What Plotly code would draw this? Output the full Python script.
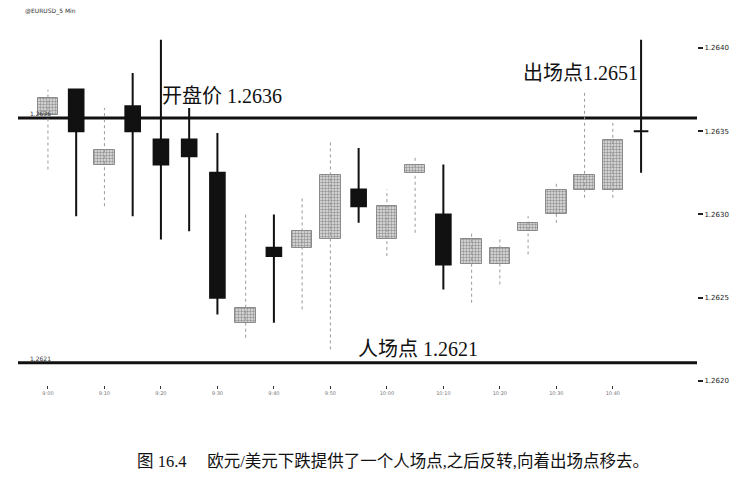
import plotly.graph_objects as go

# ---- data ----
idx = list(range(22))
opens  = [1.26360, 1.26375, 1.26330, 1.26365, 1.26345, 1.26345, 1.26325, 1.26235, 1.26280, 1.26280, 1.26285,
          1.26315, 1.26285, 1.26325, 1.26300, 1.26270, 1.26270, 1.26290, 1.26300, 1.26315, 1.26315, 1.26350]
highs  = [1.26375, 1.26375, 1.26364, 1.26385, 1.26405, 1.26364, 1.26349, 1.26300, 1.26300, 1.26310, 1.26344,
          1.26340, 1.26315, 1.26335, 1.26330, 1.26290, 1.26287, 1.26299, 1.26320, 1.26373, 1.26355, 1.26405]
lows   = [1.26327, 1.26299, 1.26305, 1.26299, 1.26285, 1.26290, 1.26240, 1.26226, 1.26235, 1.26243, 1.26219,
          1.26295, 1.26275, 1.26289, 1.26255, 1.26247, 1.26258, 1.26276, 1.26295, 1.26310, 1.26310, 1.26325]
closes = [1.26370, 1.26350, 1.26339, 1.26350, 1.26330, 1.26335, 1.26250, 1.26244, 1.26275, 1.26290, 1.26324,
          1.26305, 1.26305, 1.26330, 1.26270, 1.26285, 1.26280, 1.26295, 1.26315, 1.26324, 1.26345, 1.26350]

open_line = 1.26358    # 开盘价 line
entry_line = 1.26211   # 人场点 line
open_label = "开盘价 1.2636"
exit_label = "出场点1.2651"
entry_label = "人场点 1.2621"
left_open_tag = "1.2636"
left_entry_tag = "1.2621"
chart_tag = "@EURUSD_5 Min"
caption = "图 16.4\u3000 欧元/美元下跌提供了一个人场点,之后反转,向着出场点移去。"

y_ticks = [1.2620, 1.2625, 1.2630, 1.2635, 1.2640]
y_tick_text = ["1.2620", "1.2625", "1.2630", "1.2635", "1.2640"]
x_ticks = [0, 2, 4, 6, 8, 10, 12, 14, 16, 18, 20]
x_tick_text = ["9:00", "9:10", "9:20", "9:30", "9:40", "9:50", "10:00", "10:10", "10:20", "10:30", "10:40"]

# split into dark (down / doji) and grey (up) candles
dark = [i for i in idx if closes[i] <= opens[i]]
grey = [i for i in idx if closes[i] > opens[i]]

fig = go.Figure()

# grey candle wicks (faint dotted)
wx, wy = [], []
for i in grey:
    wx += [i, i, None]
    wy += [lows[i], highs[i], None]
fig.add_trace(go.Scatter(x=wx, y=wy, mode="lines",
                         line=dict(color="#9a9a9a", width=1, dash="dot"),
                         hoverinfo="skip", showlegend=False))

# grey candle bodies (dithered look)
fig.add_trace(go.Bar(x=grey, base=[opens[i] for i in grey],
                     y=[closes[i] - opens[i] for i in grey],
                     width=0.72,
                     marker=dict(color="white",
                                 line=dict(color="#8a8a8a", width=1),
                                 pattern=dict(shape=".", fgcolor="#4a4a4a", bgcolor="#e2e2e2",
                                              size=3, solidity=0.5)),
                     hoverinfo="skip", showlegend=False))

# dark candles
fig.add_trace(go.Candlestick(x=dark,
                             open=[opens[i] for i in dark], high=[highs[i] for i in dark],
                             low=[lows[i] for i in dark], close=[closes[i] for i in dark],
                             increasing=dict(line=dict(color="#111111", width=2), fillcolor="#111111"),
                             decreasing=dict(line=dict(color="#111111", width=2), fillcolor="#111111"),
                             whiskerwidth=0, hoverinfo="skip", showlegend=False))

# horizontal reference lines
for yv in (open_line, entry_line):
    fig.add_shape(type="line", xref="paper", x0=0, x1=1, yref="y", y0=yv, y1=yv,
                  line=dict(color="#111111", width=3), layer="below")

serif_cjk = "Liberation Serif, Noto Sans CJK SC"
fig.add_annotation(x=3.95, y=open_line, yshift=22, text=open_label, showarrow=False,
                   xanchor="left", yanchor="middle", font=dict(family=serif_cjk, size=20, color="#111"))
fig.add_annotation(x=20.95, y=1.26385, text=exit_label, showarrow=False,
                   xanchor="right", yanchor="middle", font=dict(family=serif_cjk, size=20, color="#111"))
fig.add_annotation(x=10.9, y=entry_line, yshift=14, text=entry_label, showarrow=False,
                   xanchor="left", yanchor="middle", font=dict(family=serif_cjk, size=20, color="#111"))
fig.add_annotation(x=-0.7, y=open_line, yshift=4, text=left_open_tag, showarrow=False,
                   xanchor="left", yanchor="middle", font=dict(family="DejaVu Sans", size=6, color="#333"))
fig.add_annotation(x=-0.7, y=entry_line, yshift=4, text=left_entry_tag, showarrow=False,
                   xanchor="left", yanchor="middle", font=dict(family="DejaVu Sans", size=6, color="#333"))
fig.add_annotation(xref="paper", yref="paper", x=0.008, y=1.0, yshift=14, text=chart_tag, showarrow=False,
                   xanchor="left", yanchor="middle", font=dict(family="DejaVu Sans", size=6, color="#333"))
fig.add_annotation(xref="paper", yref="paper", x=0.553, y=-0.213, text=caption, showarrow=False,
                   xanchor="center", yanchor="middle", font=dict(family=serif_cjk, size=16.5, color="#111"))

fig.update_layout(
    width=743, height=478,
    margin=dict(l=10, r=54, t=17, b=101),
    paper_bgcolor="white", plot_bgcolor="white",
    showlegend=False, boxgap=0.26, bargap=0,
    xaxis=dict(range=[-1.06, 22.98], showgrid=False, zeroline=False, showline=False,
               rangeslider=dict(visible=False), tickmode="array", tickvals=x_ticks, ticktext=x_tick_text,
               ticks="outside", ticklen=3, tickcolor="#333", tickwidth=1,
               tickfont=dict(family="DejaVu Sans", size=5, color="#777")),
    yaxis=dict(range=[1.261976, 1.264138], side="right", showgrid=False, zeroline=False, showline=False,
               tickmode="array", tickvals=y_ticks, ticktext=y_tick_text,
               ticks="outside", ticklen=5, tickcolor="#222", tickwidth=2,
               tickfont=dict(family="DejaVu Sans", size=7, color="#222")),
)

fig.write_html("out.html")
